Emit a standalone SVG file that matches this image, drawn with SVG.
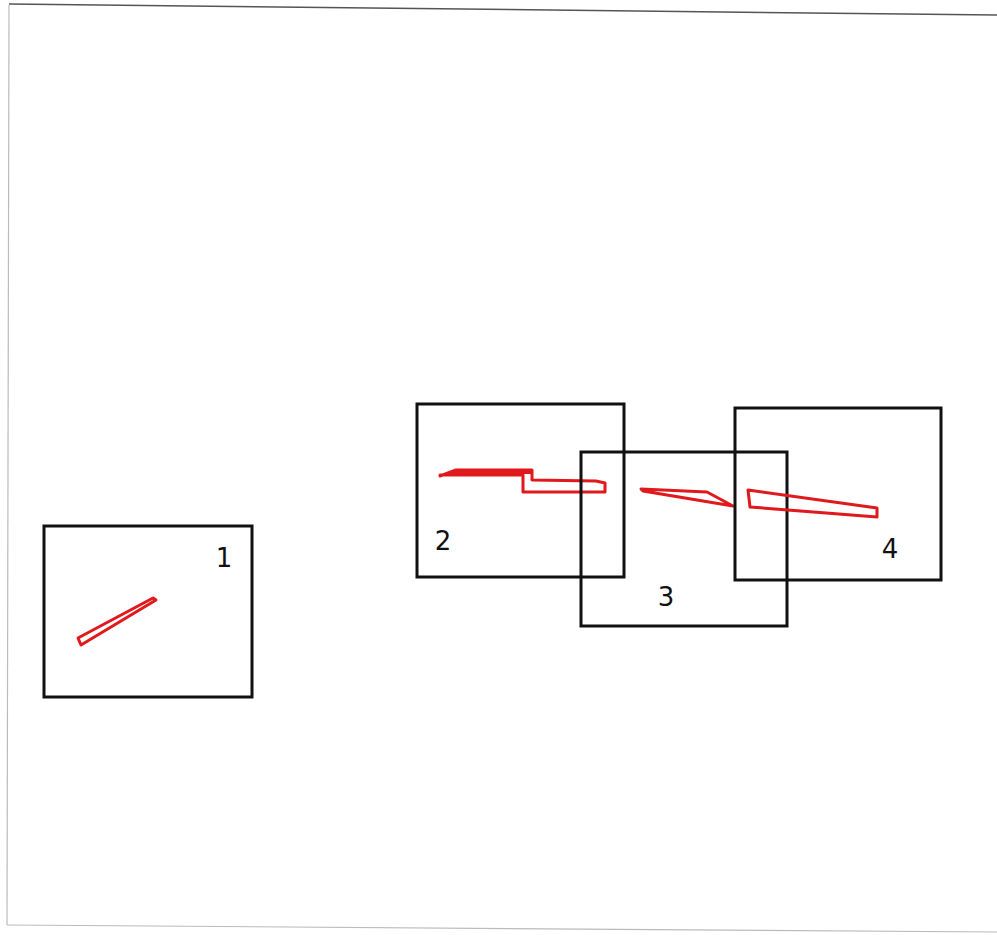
<svg xmlns="http://www.w3.org/2000/svg" width="997" height="935" viewBox="0 0 997 935">
<style>
.frame{fill:none;stroke:#555;stroke-width:1.5}
.faint{fill:none;stroke:#bbb;stroke-width:1.2}
.box{fill:none;stroke:#111;stroke-width:3}
.shape{fill:none;stroke:#e0191c;stroke-width:3;stroke-linejoin:round}
.lbl{font-family:"DejaVu Sans",Verdana,sans-serif;font-size:26px;fill:#111;text-anchor:middle}
</style>
<rect width="997" height="935" fill="#fff"/>
<g id="frame">
<line class="frame" x1="9" y1="4" x2="997" y2="15"/>
<line class="faint" x1="9" y1="5" x2="7" y2="925"/>
<line class="faint" x1="7" y1="925" x2="997" y2="932"/>
</g>
<g id="box1">
<rect class="box" x="44" y="526" width="208" height="171"/>
<polygon class="shape" points="78,638 153,598 156,600 81,645"/>
<text class="lbl" x="224" y="567">1</text>
</g>
<g id="box2">
<rect class="box" x="417" y="404" width="207" height="173"/>
<polygon class="shape" points="440,476 456,470 532,470 532,480 596,481 605,483 605,492 523,492 523,475 440,475"/>
<path d="M441,475 L456,471 L531,471 L531,474 L441,474 Z" fill="#e0191c"/>
<text class="lbl" x="443" y="550">2</text>
</g>
<g id="box3">
<rect class="box" x="581" y="452" width="206" height="174"/>
<polygon class="shape" points="641,489 707,492 733,506 643,491"/>
<text class="lbl" x="666" y="606">3</text>
</g>
<g id="box4">
<rect class="box" x="735" y="408" width="206" height="172"/>
<polygon class="shape" points="748,490 877,508 877,517 750,507"/>
<text class="lbl" x="890" y="558">4</text>
</g>
</svg>
